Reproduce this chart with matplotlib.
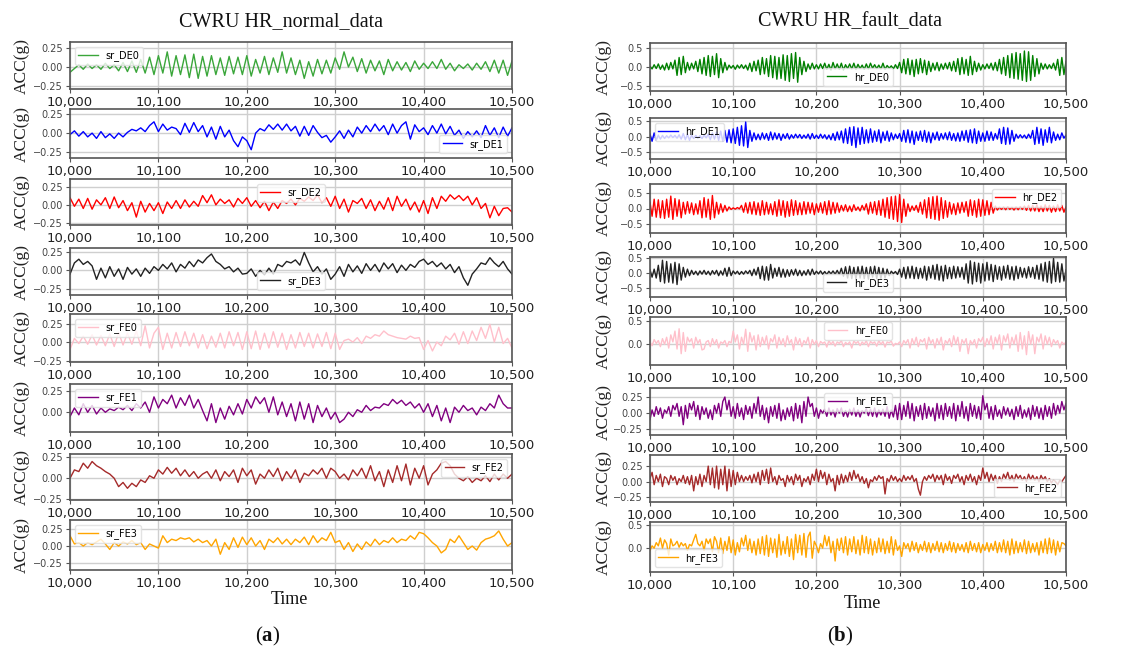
import numpy as np
import matplotlib
matplotlib.use("Agg")
import matplotlib.pyplot as plt
from matplotlib.ticker import FuncFormatter, FixedLocator

# ---------------- data (acceleration in g) ----------------
t_start, t_end = 10000, 10500
x_ticks = [10000, 10100, 10200, 10300, 10400, 10500]

# normal data, one value every 5 time steps
sr_DE0 = [-.07, -.02, .03, -.03, .04, -.02, .03, -.03, .05, -.02, .03, -.05, .06, -.06, .08, -.07, .10, -.08, .13, -.10,
          .15, -.08, .20, -.12, .15, -.10, .16, -.14, .17, -.15, .14, -.12, .15, -.10, .12, -.11, .14, -.09, .13, -.10,
          .15, -.12, .10, -.08, .14, -.10, .12, -.07, .20, -.08, .12, -.10, .09, -.15, .07, -.12, .10, -.09, .09, -.08,
          .12, -.03, .20, .00, .13, -.06, .11, -.08, .09, -.05, .08, -.10, .10, -.05, .07, -.04, .06, -.06, .08, -.03,
          .05, -.02, .07, -.02, .10, -.03, .05, -.05, .03, -.02, .04, -.04, .05, -.03, .07, -.06, .09, -.08, .09, -.11, .08]
sr_DE1 = [-.02, .03, -.04, .02, -.05, .00, -.07, .02, -.06, -.01, -.07, .00, -.05, .01, .05, .03, .07, .02, .10, .15,
          .02, .12, .04, .08, .06, -.02, .13, .01, .14, .02, .10, -.05, .08, -.08, .09, -.05, .04, -.10, -.18, -.05,
          -.10, -.22, .00, .06, .03, .11, .05, .12, .04, .12, .03, .09, -.04, .09, -.03, .10, .01, -.06, -.03, -.12,
          -.05, .03, -.07, .04, -.05, .08, .00, .10, .02, .12, .03, .10, -.02, .12, .00, .10, .15, -.08, .11, .02,
          .07, -.02, .10, .00, .12, -.01, .09, -.03, .04, -.07, .02, -.05, .03, -.06, .10, -.03, .07, -.06, .08, -.04, .07]
sr_DE2 = [.10, -.02, .08, -.05, .09, -.06, .07, .00, .10, -.05, .11, -.04, .06, -.08, .03, -.17, .05, -.10, .02, -.08,
          .03, -.12, .04, -.05, .06, -.05, .07, -.03, .05, -.02, .13, .03, .14, .00, .08, .02, .07, -.03, .09, .02,
          .10, -.02, .06, -.04, .05, -.08, .04, -.05, .06, .02, .08, .00, .09, .05, .11, .06, .14, .03, .10, -.02,
          .12, -.05, .08, -.10, .06, .02, .09, -.05, .07, -.08, .05, -.06, .10, -.08, .12, -.02, .08, -.07, .04, -.10,
          .06, -.12, .10, -.05, .12, .05, .14, .08, .13, .06, .12, .00, .10, -.05, .02, -.18, -.02, -.15, -.05, -.04, -.10]
sr_DE3 = [-.05, .10, .15, .08, .12, .06, -.12, .03, -.10, .05, -.08, .02, -.12, .04, -.05, .02, -.08, .03, -.04, .05,
          .00, .08, .02, .10, -.02, .08, .03, .12, .05, .14, .10, .17, .22, .12, .08, .02, .05, -.02, .03, -.05,
          -.04, .02, -.08, .00, -.06, .03, -.05, .08, .05, .12, .10, .14, .07, .24, .10, -.02, .05, -.05, .02, -.12,
          -.05, .05, -.08, .08, -.02, .06, -.04, .09, .00, .08, -.02, .10, .02, .09, -.03, .07, .00, .08, .04, .12,
          .15, .08, .12, .05, .10, .02, .08, -.03, .05, -.10, -.20, -.05, .02, .10, .08, .17, .10, .05, .12, .02, -.05]
sr_FE0 = [-.10, .05, -.02, .08, -.03, .10, -.04, .09, -.05, .11, -.06, .13, -.04, .12, -.03, .15, -.05, .22, -.08, .12,
          .20, -.10, .12, -.08, .13, -.06, .14, -.05, .12, -.08, .10, -.09, .08, -.07, .12, -.08, .14, -.05, .13, -.10,
          .14, -.09, .15, -.10, .12, -.08, .14, -.07, .12, -.10, .10, -.08, .13, -.06, .12, -.08, .11, -.06, .13, -.09,
          .12, -.10, .02, .04, .00, .06, -.02, .08, .05, .10, .08, .15, .10, .08, .06, .05, .04, .08, .05, .06,
          -.10, .02, -.12, .00, -.05, .08, .03, .12, -.03, .14, -.02, .15, .02, .20, .05, .24, .00, .20, -.02, .05, -.08]
sr_FE1 = [-.05, .05, -.03, .10, .00, .08, -.02, .05, .00, .04, .02, .06, .03, .08, .02, .10, .05, .12, .00, .18,
          .05, .15, .10, .20, .05, .17, .08, .20, .05, .15, .02, -.10, .10, -.12, .05, -.08, .07, -.03, .10, -.02,
          .15, .05, .18, .10, .17, .00, .18, -.03, .12, -.05, .10, -.10, .12, -.08, .10, -.12, .08, -.05, .05, -.08,
          .00, -.12, -.08, .00, -.05, .03, .00, .08, .02, .06, .05, .10, .08, .15, .10, .14, .08, .12, .05, .10,
          .00, .10, -.05, .08, -.10, .05, -.12, .06, .00, .08, .02, .05, -.03, .06, .02, .10, .05, .20, .10, .05, .05]
sr_FE2 = [.00, .10, .08, .18, .12, .20, .15, .12, .08, .05, .00, -.10, -.05, -.12, -.06, -.10, -.02, -.05, .03, .00,
          .10, .05, .13, .06, .12, .03, .10, .02, .08, .00, .05, .08, .00, .10, -.03, .08, .02, .10, -.05, .12,
          .03, .10, -.07, .05, .00, .10, .02, .12, -.03, .08, .00, .10, -.05, .06, .03, .10, .05, .12, .00, .12,
          .08, .00, .05, -.02, .10, .03, .12, .00, .15, -.03, .08, -.10, .10, -.05, .15, -.03, .17, -.08, .12, .00,
          .15, -.08, .05, .10, .18, .20, .15, .05, .00, -.03, .02, -.05, .00, -.03, .03, -.04, .05, -.02, .05, .00, .05]
sr_FE3 = [.15, .03, .05, .00, .05, .02, .06, .10, .03, -.05, .05, .00, .06, .03, .08, .02, .05, -.05, .03, .00,
          -.03, .15, .05, .10, .08, .12, .10, .12, .06, .10, .05, .08, .00, .10, -.12, .05, -.05, .12, -.02, .13,
          .02, .12, .00, .08, -.05, .10, .05, .12, .03, .10, .02, .10, .05, .13, .02, .15, .05, .12, .08, .20,
          .05, .08, -.05, .05, -.08, .03, -.05, .06, .00, .10, .02, .08, .05, .12, .05, .10, .08, .15, .10, .20,
          .18, .12, .05, .00, -.10, -.05, .10, .05, .15, .05, -.05, .00, -.06, .05, .10, .12, .15, .22, .10, .00, .05]

# fault data, one value every 2.5 time steps
hr_DE0 = [.02, -.05, .06, -.04, .08, -.06, .05, -.08, .10, -.07, .12, -.05, .18, -.22, .25, -.20, .28, -.15, .12, -.08,
          .10, -.05, .15, -.12, .20, -.18, .25, -.22, .30, -.25, .28, -.20, .35, -.28, .22, -.15, .12, -.08, .05, -.03,
          .04, -.06, .05, -.03, .06, -.04, .05, -.08, .10, -.12, .15, -.10, .18, -.20, .25, -.18, .22, -.25, .30, -.28,
          .28, -.32, .25, -.30, .32, -.35, .30, -.38, .35, -.30, .38, -.40, .25, -.20, .15, -.12, .08, -.06, .10, -.05,
          .06, -.05, .08, -.04, .10, -.06, .07, -.08, .12, -.05, .08, -.06, .10, -.08, .06, -.04, .08, -.05, .10, -.06,
          .07, -.04, .05, -.06, .08, -.05, .10, -.03, .06, -.04, .05, -.05, .10, -.06, .04, -.03, .03, -.05, .06, -.04,
          .12, -.15, .20, -.18, .22, -.20, .18, -.25, .20, -.18, .22, -.15, .18, -.20, .15, -.12, .10, -.08, .12, -.10,
          .08, -.06, .10, -.05, .12, -.10, .15, -.12, .22, -.20, .25, -.18, .20, -.22, .28, -.20, .15, -.12, .10, -.08,
          .06, -.05, .08, -.04, .10, -.08, .12, -.10, .20, -.18, .25, -.22, .30, -.28, .35, -.30, .38, -.32, .35, -.35,
          .42, -.38, .40, -.35, .30, -.25, .22, -.18, .10, -.06, .08, -.05, .06, -.04, .10, -.08, .20, -.22, .25, -.20, .15]
hr_DE1 = [.08, -.15, .12, -.12, .05, -.08, .04, -.06, .03, -.04, .05, -.03, .04, -.05, .06, -.08, .10, -.10, .08, -.12,
          .05, -.06, .04, -.05, .03, -.06, .05, -.04, .08, -.10, .12, -.08, .15, -.12, .18, -.15, .20, -.18, .22, -.20,
          .25, -.22, .30, -.28, .35, -.30, .47, -.35, .20, -.15, .12, -.10, .08, -.10, .12, -.08, .10, -.12, .15, -.10,
          .12, -.08, .10, -.12, .08, -.06, .10, -.08, .06, -.05, .08, -.04, .07, -.06, .05, -.05, .08, -.08, .10, -.06,
          .05, -.06, .08, -.05, .06, -.08, .05, -.10, .10, -.12, .15, -.10, .18, -.20, .25, -.22, .30, -.28, .32, -.35,
          .28, -.25, .30, -.22, .22, -.20, .25, -.18, .18, -.15, .22, -.20, .15, -.12, .18, -.15, .12, -.10, .08, -.06,
          .10, -.15, .20, -.18, .22, -.20, .18, -.25, .15, -.12, .18, -.15, .20, -.18, .15, -.20, .12, -.10, .15, -.12,
          .10, -.08, .12, -.10, .15, -.12, .10, -.14, .12, -.15, .18, -.12, .20, -.18, .22, -.20, .25, -.22, .18, -.15,
          .12, -.15, .18, -.12, .15, -.12, .10, -.08, .25, -.22, .30, -.25, .28, -.24, .20, -.15, .08, -.05, .06, -.04,
          .05, -.06, .08, -.05, .20, -.25, .30, -.22, .25, -.28, .22, -.18, .30, -.20, .15, -.12, .08, -.10, .12, -.05, .05]
hr_DE2 = [.20, -.25, .30, -.28, .28, -.30, .25, -.32, .30, -.28, .40, -.35, .32, -.25, .28, -.30, .20, -.18, .22, -.15,
          .18, -.20, .15, -.18, .25, -.30, .35, -.28, .30, -.35, .42, -.30, .20, -.18, .15, -.12, .10, -.08, .05, -.03,
          .02, -.02, .03, -.01, .10, -.12, .18, -.15, .20, -.18, .22, -.20, .18, -.22, .25, -.20, .20, -.18, .15, -.20,
          .22, -.25, .28, -.22, .25, -.28, .22, -.25, .28, -.22, .25, -.20, .18, -.20, .22, -.18, .20, -.15, .18, -.20,
          .15, -.12, .18, -.15, .22, -.20, .25, -.18, .20, -.15, .18, -.12, .10, -.08, .12, -.10, .08, -.10, .12, -.06,
          .05, -.08, .10, -.05, .15, -.18, .20, -.15, .22, -.20, .25, -.22, .30, -.28, .35, -.32, .38, -.35, .40, -.42,
          .45, -.45, .30, -.25, .15, -.10, .08, -.06, .10, -.12, .20, -.18, .28, -.30, .35, -.32, .38, -.35, .40, -.38,
          .35, -.32, .25, -.28, .20, -.18, .15, -.20, .18, -.15, .20, -.12, .22, -.25, .28, -.22, .25, -.28, .30, -.25,
          .28, -.22, .25, -.20, .20, -.15, .08, -.05, .04, -.03, .05, -.04, .06, -.03, .04, -.05, .05, -.04, .06, -.03,
          .08, -.06, .10, -.08, .10, -.08, .12, -.10, .08, -.10, .12, -.08, .10, -.12, .08, -.10, .12, -.08, .10, -.12, .05]
hr_DE3 = [.10, -.15, .12, -.18, .25, -.30, .42, -.35, .38, -.32, .30, -.35, .35, -.40, .30, -.25, .18, -.15, .12, -.10,
          .08, -.06, .05, -.08, .06, -.05, .08, -.06, .05, -.08, .07, -.05, .08, -.10, .06, -.08, .15, -.12, .18, -.10,
          .06, -.04, .05, -.06, .04, -.05, .06, -.03, .08, -.10, .12, -.08, .18, -.20, .22, -.25, .20, -.25, .28, -.18,
          .15, -.12, .18, -.15, .12, -.15, .10, -.12, .10, -.08, .12, -.10, .08, -.10, .06, -.08, .10, -.08, .12, -.06,
          .05, -.04, .06, -.05, .04, -.06, .05, -.04, .06, -.05, .08, -.06, .15, -.12, .20, -.18, .22, -.20, .18, -.22,
          .20, -.18, .22, -.20, .18, -.22, .20, -.15, .22, -.20, .18, -.20, .15, -.18, .12, -.10, .05, -.03, .04, -.06,
          .12, -.15, .18, -.20, .20, -.18, .22, -.20, .18, -.20, .15, -.18, .22, -.25, .20, -.18, .25, -.22, .28, -.25,
          .22, -.28, .25, -.20, .18, -.20, .22, -.18, .20, -.15, .18, -.22, .30, -.35, .40, -.38, .35, -.30, .32, -.35,
          .30, -.28, .35, -.25, .28, -.30, .25, -.22, .20, -.25, .22, -.18, .25, -.22, .20, -.25, .22, -.20, .18, -.15,
          .15, -.18, .20, -.15, .18, -.20, .25, -.22, .30, -.28, .35, -.32, .38, -.35, .48, -.30, .35, -.32, .30, -.28, .10]
hr_FE0 = [.05, -.03, .10, .02, .08, -.05, .12, .00, .15, -.08, .20, .05, .28, -.10, .33, -.20, .25, -.15, .15, .05,
          .12, -.08, .15, .02, .10, -.12, -.10, .05, .08, -.05, .12, .00, .10, -.08, .05, .02, .08, -.05, .06, .03,
          .28, .05, .20, -.10, .15, .00, .32, -.15, .25, .05, .18, -.12, .20, -.05, .15, .00, .18, -.10, .12, .05,
          .20, -.08, .15, .00, .12, -.05, .18, .02, .10, -.12, .15, .00, .12, -.05, .08, .02, .15, -.08, .10, .00,
          .08, -.05, .06, .02, .05, -.06, .08, .00, .06, -.04, .05, .02, .08, -.05, .04, .00, .05, -.08, .07, .02,
          .06, -.03, .05, .00, .08, -.05, .06, .02, .05, -.04, .08, .00, .06, -.06, .05, .03, .07, -.04, .02, .00,
          .05, -.05, .08, .02, .10, -.08, .12, .00, .15, -.05, .10, .05, .12, -.10, .15, .02, .10, -.08, .12, .00,
          .15, -.12, .08, .02, .12, -.05, .18, .00, .15, -.15, .10, .02, .12, -.20, .08, .00, .10, -.08, .12, .05,
          .15, -.05, .12, .00, .18, -.10, .15, .02, .20, -.12, .18, .05, .22, -.08, .15, .00, .20, -.15, .25, -.10,
          .18, -.22, .27, .00, .20, -.20, .15, .05, .22, -.10, .18, .00, .15, -.05, .10, .02, .08, -.08, .05, .00, .05]
hr_FE1 = [-.10, .05, -.05, .10, -.02, .08, -.08, .05, .00, .10, -.05, .12, .05, .15, -.05, .10, -.18, .12, -.08, .15,
          .05, .18, -.05, .12, -.10, .10, -.02, .08, -.08, .05, -.10, .12, .00, .15, -.05, .18, .25, .05, .20, -.05,
          .10, -.08, .15, -.05, .08, -.10, .12, -.02, .10, -.08, .15, .00, .25, -.05, .12, -.10, .08, -.15, .10, -.05,
          .12, -.08, .15, -.12, .05, -.10, .08, -.05, .10, -.12, .15, -.08, .12, -.15, .18, -.05, .25, .10, .15, -.05,
          .08, -.08, .05, .00, .06, -.05, .08, -.03, .05, -.06, .07, .00, .08, -.05, .04, -.06, .06, -.03, .08, -.05,
          .05, -.06, .04, .00, .07, -.04, .06, -.05, .08, -.06, .05, -.03, .06, -.05, .10, -.08, .05, -.06, .12, -.10,
          .15, -.10, .12, -.05, .18, -.08, .15, -.12, .10, -.05, .12, -.10, .15, -.08, .10, -.05, .08, -.12, .15, -.08,
          .12, -.10, .15, -.05, .10, -.08, .15, -.12, .12, -.05, .18, -.08, .10, -.12, .15, -.05, .12, -.08, .10, -.10,
          .27, .05, .15, -.08, .10, -.10, .12, -.05, .05, -.08, .10, -.03, .08, -.05, .06, -.10, .10, -.05, .12, -.08,
          .05, -.06, .08, -.10, .12, -.05, .10, -.08, .08, -.10, .12, -.05, .10, -.08, .15, -.03, .12, .00, .18, .05, .15]
hr_FE2 = [.05, .15, -.05, .10, .00, .12, -.08, .08, .05, -.05, .10, .02, .08, -.05, .05, .00, .10, -.03, .08, -.05,
          .10, -.15, .08, -.05, .12, -.08, .10, .00, .25, -.05, .22, -.10, .25, -.12, .20, -.05, .25, -.15, .20, -.08,
          .18, -.05, .15, .00, .10, .00, .08, .02, .10, -.02, .12, .00, .15, -.05, .18, .02, .20, -.03, .22, .00,
          .08, -.05, .10, .02, .05, -.08, .10, .00, .08, -.05, .12, .02, .10, -.08, .05, .00, .08, -.05, .12, .02,
          .20, .00, .18, .05, .15, -.05, .12, .00, .05, -.15, .10, -.05, .12, -.02, .10, .00, .15, .02, .18, .05,
          .12, .00, .08, -.03, .05, -.10, .03, .00, .08, .02, .10, .05, .08, -.20, .05, .00, .10, .02, .08, .00,
          .05, .00, .10, .02, .08, .03, .10, .00, .05, -.12, -.22, .00, .08, .02, .10, .05, .12, .00, .10, .03,
          .10, -.05, .12, .02, .08, -.03, .10, .05, .12, .00, .08, -.05, .10, .02, .12, .00, .08, -.05, .10, .02,
          .22, .05, .15, .00, .12, .02, .10, -.03, .08, .00, .12, .05, .15, .02, .10, .00, .12, .05, .10, .02,
          .08, .00, .12, .03, .10, .02, .08, .00, .10, .03, .08, .00, .05, -.02, .03, .00, -.05, .02, .00, .05, .10]
hr_FE3 = [-.05, .05, .00, .12, .05, .22, .00, .18, .10, -.15, .20, .05, .08, .15, .02, .12, .05, .10, -.05, .08,
          .05, .18, .30, .10, .05, .15, -.05, .20, .10, .20, -.08, .25, .15, -.10, .22, -.12, .15, -.05, .25, -.10,
          .18, -.15, .12, -.08, .22, .05, .28, -.05, .20, -.10, .15, -.15, .20, -.12, .25, -.15, .28, -.18, .22, -.10,
          .20, -.20, .30, -.15, .15, -.12, .25, -.18, .20, -.25, .30, -.10, .28, -.15, .32, -.20, .25, .35, -.22, .15,
          .05, -.10, .10, .00, .28, .05, .25, -.10, .15, -.28, .20, -.05, .22, -.10, .25, -.15, .20, -.08, .25, -.12,
          .18, -.15, .28, -.10, .25, -.12, .20, -.15, .15, -.10, .22, -.08, .20, -.12, .15, -.10, .25, -.15, .18, -.05,
          .05, -.18, .12, .00, .10, -.08, .15, -.05, .12, -.10, .08, -.05, .15, -.08, .12, -.10, .10, -.05, .15, -.08,
          .12, -.10, .10, -.05, .15, -.08, .12, -.10, .10, -.05, .08, -.08, .12, -.10, .15, -.05, .10, -.08, .12, -.10,
          .08, -.05, .12, -.08, .10, -.05, .15, -.10, .12, -.08, .18, -.10, .15, -.15, .20, -.12, .15, -.10, .12, -.08,
          .18, -.12, .15, -.10, .10, -.08, .12, -.15, .15, -.10, .20, -.12, .22, -.10, .18, -.15, .15, -.08, .12, .10, .05]

normal_names = ["sr_DE0", "sr_DE1", "sr_DE2", "sr_DE3", "sr_FE0", "sr_FE1", "sr_FE2", "sr_FE3"]
normal_series = [sr_DE0, sr_DE1, sr_DE2, sr_DE3, sr_FE0, sr_FE1, sr_FE2, sr_FE3]
fault_names = ["hr_DE0", "hr_DE1", "hr_DE2", "hr_DE3", "hr_FE0", "hr_FE1", "hr_FE2", "hr_FE3"]
fault_series = [hr_DE0, hr_DE1, hr_DE2, hr_DE3, hr_FE0, hr_FE1, hr_FE2, hr_FE3]

# ---------------- style / layout ----------------
left_colors = ["#3aa63a", "blue", "red", "#222222", "pink", "purple", "brown", "orange"]
right_colors = ["green", "blue", "red", "#222222", "pink", "purple", "brown", "orange"]

left_legend = ["upper left", "lower right", "upper center", "lower center",
               "upper left", "upper left", "upper right", "upper left"]
right_legend = ["lower center", "upper left", "upper right", "lower center",
                "upper center", "upper center", "lower right", "lower left"]

left_ylim = [(-0.29, 0.33), (-0.33, 0.32), (-0.28, 0.36), (-0.33, 0.30),
             (-0.27, 0.38), (-0.23, 0.33), (-0.26, 0.29), (-0.35, 0.38)]
left_yt = [[-0.25, 0, 0.25]] * 8
right_ylim = [(-0.63, 0.63), (-0.72, 0.60), (-0.79, 0.79), (-0.82, 0.53),
              (-0.44, 0.58), (-0.34, 0.39), (-0.33, 0.43), (-0.52, 0.57)]
right_yt = [[-0.5, 0, 0.5]] * 4 + [[0, 0.5], [-0.25, 0, 0.25], [-0.25, 0, 0.25], [0, 0.5]]

left_rows = [(42, 89), (109, 158), (179, 225), (248, 295), (314, 362), (384, 432), (454, 500), (520, 570)]
right_rows = [(43, 91), (118, 159), (184, 233), (257, 297), (317, 365), (388, 435), (455, 502), (522, 572)]
left_x = (70, 512)
right_x = (650, 1066)

W, H = 1121, 653
plt.rcParams["mathtext.fontset"] = "custom"
plt.rcParams["mathtext.rm"] = "Liberation Serif"
plt.rcParams["mathtext.bf"] = "Liberation Serif:bold"
plt.rcParams["axes.unicode_minus"] = True

fig = plt.figure(figsize=(W / 100, H / 100), dpi=100)
fig.patch.set_facecolor("white")

serif = "Liberation Serif"


def fmt_factory(f):
    return FuncFormatter(lambda v, p: (f % v).replace("-", "\u2212"))


def make_col(xr, rows, names, series, colors, legs, ylims, yts, ylabel_x):
    for i in range(8):
        y0, y1 = rows[i]
        ax = fig.add_axes([xr[0] / W, 1 - y1 / H, (xr[1] - xr[0]) / W, (y1 - y0) / H])
        vals = np.array(series[i])
        tt = np.linspace(t_start, t_end, len(vals))
        ax.plot(tt, vals, color=colors[i], lw=1.0, label=names[i])
        ax.set_xlim(t_start, t_end)
        ax.set_ylim(*ylims[i])
        ax.xaxis.set_major_locator(FixedLocator(x_ticks))
        ax.xaxis.set_major_formatter(FuncFormatter(lambda v, p: f"{v:,.0f}"))
        ax.yaxis.set_major_locator(FixedLocator(yts[i]))
        ax.yaxis.set_major_formatter(fmt_factory("%.1f" if 0.5 in yts[i] else "%.2f"))
        ax.grid(True, color="#cfcfcf", lw=1.0)
        ax.set_axisbelow(True)
        for s in ax.spines.values():
            s.set_color("#555555")
            s.set_linewidth(1.2)
        ax.tick_params(axis="x", labelsize=9.5, colors="#555555", labelcolor="#222222", length=3, pad=2)
        ax.tick_params(axis="y", labelsize=7, colors="#555555", labelcolor="#444444", length=3, pad=2)
        ax.legend(loc=legs[i], fontsize=7, frameon=True, framealpha=0.8, edgecolor="#dddddd",
                  handlelength=2.0, borderpad=0.35, labelspacing=0.2, handletextpad=0.8)
        fig.text(ylabel_x / W, 1 - (y0 + y1) / 2 / H, "ACC(g)", rotation=90, ha="center", va="center",
                 fontsize=12.5, family=serif, color="#222222")


make_col(left_x, left_rows, normal_names, normal_series, left_colors, left_legend,
         left_ylim, left_yt, 22)
make_col(right_x, right_rows, fault_names, fault_series, right_colors, right_legend,
         right_ylim, right_yt, 604)

fig.text(281 / W, 1 - 22 / H, "CWRU HR_normal_data", ha="center", va="center", fontsize=14.5,
         family=serif, color="#111111")
fig.text(850 / W, 1 - 22 / H, "CWRU HR_fault_data", ha="center", va="center", fontsize=14.5,
         family=serif, color="#111111")
fig.text(289 / W, 1 - 600 / H, "Time", ha="center", va="center", fontsize=13, family=serif, color="#111111")
fig.text(862 / W, 1 - 604 / H, "Time", ha="center", va="center", fontsize=13, family=serif, color="#111111")
fig.text(268 / W, 1 - 636 / H, r"$\mathrm{(}\mathbf{a}\mathrm{)}$", ha="center", va="center", fontsize=15,
         color="#111111")
fig.text(840 / W, 1 - 636 / H, r"$\mathrm{(}\mathbf{b}\mathrm{)}$", ha="center", va="center", fontsize=15,
         color="#111111")

fig.savefig("out.png", dpi=100, facecolor="white")
